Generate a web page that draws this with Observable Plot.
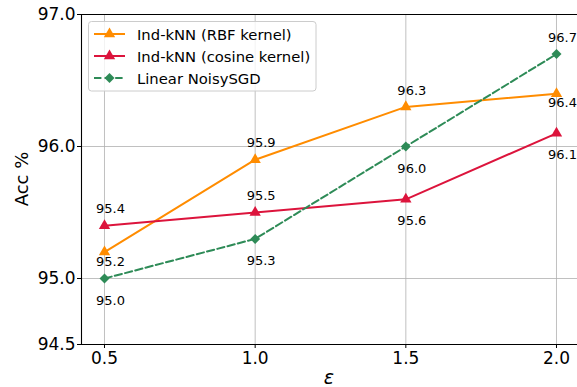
<!DOCTYPE html>
<html>
<head>
<meta charset="utf-8">
<script src="https://cdn.jsdelivr.net/npm/d3@7"></script>
<script src="https://cdn.jsdelivr.net/npm/@observablehq/plot@0.6"></script>
<style>
  html, body { margin: 0; padding: 0; background: #fff; }
  #chart { width: 577px; height: 387px; overflow: hidden; }
</style>
</head>
<body>
<div id="chart"></div>
<script>
// ---- data ----
const eps = [0.5, 1.0, 1.5, 2.0];
const rbf = [95.2, 95.9, 96.3, 96.4];
const cosine = [95.4, 95.5, 95.6, 96.1];
const sgd = [95.0, 95.3, 96.0, 96.7];
const seriesNames = ["Ind-kNN (RBF kernel)", "Ind-kNN (cosine kernel)", "Linear NoisySGD"];
const xTicks = [0.5, 1.0, 1.5, 2.0];
const yTicks = [94.5, 95.0, 96.0, 97.0];
// where each value label sits relative to its point
const rbfSide = ["below", "above", "above", "below"];
const cosineSide = ["above", "above", "below", "below"];
const sgdSide = ["below", "below", "below", "above"];

const FONT = "DejaVu Sans";
const series = [
  {name: seriesNames[0], values: rbf, sides: rbfSide, color: "#ff8c00", symbol: "triangle", r: 4.2, dash: null, belowDy: 9.5},
  {name: seriesNames[1], values: cosine, sides: cosineSide, color: "#dc143c", symbol: "triangle", r: 4.2, dash: null, belowDy: 22},
  {name: seriesNames[2], values: sgd, sides: sgdSide, color: "#2e8b57", symbol: "diamond2", r: 4.5, dash: "7.4,3.2", belowDy: 22}
];
const rows = s => eps.map((e, i) => ({x: e, y: s.values[i], side: s.sides[i]}));

const marks = [
  Plot.gridX(xTicks, {stroke: "#b0b0b0", strokeOpacity: 1, strokeWidth: 0.8}),
  Plot.gridY(yTicks, {stroke: "#b0b0b0", strokeOpacity: 1, strokeWidth: 0.8}),
  Plot.axisX({ticks: xTicks, tickFormat: d3.format(".1f"), tickSize: 4, tickPadding: 3, fontSize: 17, label: null, stroke: "#000"}),
  Plot.axisY({ticks: yTicks, tickFormat: d3.format(".1f"), tickSize: 4, tickPadding: 2, fontSize: 17, label: null, stroke: "#000"}),
];
for (const s of series) {
  const d = rows(s);
  marks.push(Plot.line(d, {x: "x", y: "y", stroke: s.color, strokeWidth: 2, strokeDasharray: s.dash || undefined}));
  marks.push(Plot.dot(d, {x: "x", y: "y", symbol: () => s.symbol, r: s.r, fill: s.color, stroke: "none"}));
}
for (const s of series) {
  const d = rows(s);
  marks.push(Plot.text(d.filter(r => r.side === "above"), {x: "x", y: "y", text: r => r.y.toFixed(1), dx: 6, dy: -16.5, fontSize: 13, fill: "#000"}));
  marks.push(Plot.text(d.filter(r => r.side === "below"), {x: "x", y: "y", text: r => r.y.toFixed(1), dx: 6, dy: s.belowDy, fontSize: 13, fill: "#000"}));
}
marks.push(Plot.ruleY([94.5, 97.0], {stroke: "#000", strokeWidth: 1.1}));
marks.push(Plot.ruleX([0.4237], {stroke: "#000", strokeWidth: 1.1}));

const plot = Plot.plot({
  width: 577,
  height: 387,
  marginLeft: 81,
  marginRight: 0,
  marginTop: 14,
  marginBottom: 43,
  style: {fontFamily: FONT, background: "#fff", color: "#000"},
  x: {domain: [0.4237, 2.0697]},
  y: {domain: [94.5, 97.0]},
  marks
});
document.getElementById("chart").appendChild(plot);

// axis titles and legend
const svg = d3.select(plot);
svg.append("text").attr("transform", "translate(21,179) rotate(-90)")
  .attr("text-anchor", "middle").attr("dominant-baseline", "central")
  .style("font-family", FONT).style("font-size", "18px").attr("fill", "#000").text("Acc %");
svg.append("text").attr("x", 329).attr("y", 377)
  .attr("text-anchor", "middle").attr("dominant-baseline", "central")
  .style("font-family", FONT).style("font-size", "19px").style("font-style", "italic").attr("fill", "#000").text("ε");

const lg = svg.append("g");
lg.append("rect").attr("x", 88.5).attr("y", 21.5).attr("width", 227.5).attr("height", 69.5).attr("rx", 3)
  .attr("fill", "#fff").attr("fill-opacity", 0.8).attr("stroke", "#cccccc").attr("stroke-width", 1);
const symMap = {triangle: d3.symbolTriangle, diamond2: d3.symbolDiamond2};
series.forEach((s, i) => {
  const y = 34 + i * 22;
  lg.append("line").attr("x1", 94).attr("x2", 125).attr("y1", y).attr("y2", y)
    .attr("stroke", s.color).attr("stroke-width", 2).attr("stroke-dasharray", s.dash);
  lg.append("path").attr("transform", `translate(109.5,${y})`)
    .attr("d", d3.symbol(symMap[s.symbol], Math.PI * s.r * s.r)()).attr("fill", s.color);
  lg.append("text").attr("x", 137).attr("y", y).attr("text-anchor", "start").attr("dominant-baseline", "central")
    .style("font-family", FONT).style("font-size", "14.8px").attr("fill", "#000").text(s.name);
});
</script>
</body>
</html>
